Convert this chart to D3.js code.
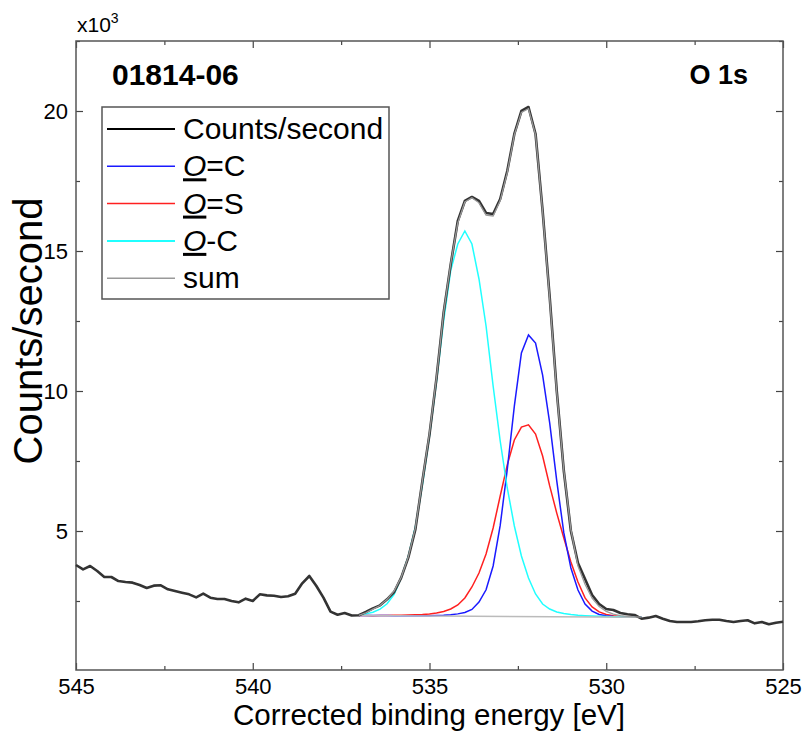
<!DOCTYPE html>
<html>
<head>
<meta charset="utf-8">
<script src="https://cdn.jsdelivr.net/npm/d3@7"></script>
<style>
  body { margin: 0; background: #fff; }
  svg text { font-family: "Liberation Sans", Arial, sans-serif; fill: #000; }
</style>
</head>
<body>
<svg id="chart" width="806" height="732"></svg>
<script>
// binding energy grid: 545 eV down to 525 eV, 0.2 eV steps
const eStart = 545, eStep = -0.2;

// measured counts/second, one per grid point (101 values)
const counts = [
  3786, 3631, 3750, 3571, 3357, 3357, 3214, 3179, 3155, 3071,
  2964, 3048, 3060, 2917, 2857, 2798, 2738, 2631, 2762, 2619,
  2571, 2571, 2500, 2452, 2583, 2500, 2738, 2702, 2690, 2643,
  2667, 2762, 3131, 3393, 3036, 2619, 2120, 2010, 2070, 1980,
  1990, 2107, 2238, 2345, 2560, 2821, 3333, 4048, 5060, 6786,
  8452, 10476, 12798, 14524, 16071, 16786, 16929, 16786, 16357, 16321,
  16857, 17857, 19179, 20000, 20143, 19179, 16430, 13357, 10000, 7143,
  5000, 3857, 3286, 2714, 2393, 2214, 2179, 2071, 2024, 2000,
  1869, 1905, 1964, 1869, 1786, 1750, 1750, 1750, 1774, 1810,
  1833, 1833, 1786, 1750, 1786, 1810, 1702, 1750, 1667, 1726,
  1762
];

// fit region: grid index 40 (537.0 eV) to 80 (529.0 eV)
const fitFrom = 40;

// linear background end points [eV, counts]
const background = [[537.0, 1980], [529.0, 1920]];

const peakOC = [ // O=C, blue
  1980, 1980, 1980, 1980, 1980, 1975, 1975, 1975, 1975, 1975,
  1975, 1980, 1990, 2010, 2040, 2090, 2200, 2460, 2900, 3750,
  5200, 7200, 9460, 11360, 12000, 11710, 10570, 8860, 6790, 4930,
  3680, 2890, 2390, 2140, 2020, 1975, 1950, 1940, 1930, 1925,
  1920
];
const peakOS = [ // O=S, red
  1980, 1978, 1977, 1980, 1985, 1990, 1995, 2000, 2010, 2020,
  2040, 2071, 2125, 2214, 2357, 2607, 3000, 3500, 4180, 5107,
  6250, 7360, 8250, 8710, 8790, 8460, 7680, 6610, 5640, 4750,
  3890, 3180, 2610, 2290, 2110, 2020, 1975, 1950, 1935, 1925,
  1920
];
const peakOCs = [ // O-C, cyan
  1990, 2040, 2100, 2210, 2400, 2740, 3330, 4100, 5150, 6650,
  8400, 10350, 12500, 14300, 15250, 15714, 15250, 14000, 12321, 10179,
  8214, 6536, 5179, 4107, 3321, 2750, 2393, 2214, 2107, 2054,
  2018, 1990, 1975, 1962, 1952, 1945, 1940, 1935, 1930, 1925,
  1920
];
const fitSum = [ // sum envelope, grey
  1985, 2080, 2210, 2340, 2560, 2860, 3350, 4080, 5100, 6800,
  8500, 10500, 12800, 14550, 16000, 16750, 16900, 16720, 16280, 16250,
  16800, 17800, 19150, 19950, 20080, 19150, 16400, 13300, 9950, 7150,
  5050, 3750, 3100, 2600, 2300, 2130, 2030, 1980, 1950, 1935,
  1925
];

const xMajor = [545, 540, 535, 530, 525];
const xMinor = [542.5, 537.5, 532.5, 527.5];
const yMajor = [5000, 10000, 15000, 20000];
const yMinor = [2500, 7500, 12500, 17500, 22500];

const legendItems = [
  { label: "Counts/second", color: "#000", width: 2.2 },
  { label: "O", rest: "=C", color: "#1a1aff", width: 1.5 },
  { label: "O", rest: "=S", color: "#ff2020", width: 1.5 },
  { label: "O", rest: "-C", color: "#20ffff", width: 2 },
  { label: "sum", color: "#999", width: 1.5 }
];

const svg = d3.select("#chart");
const pL = 76, pR = 783, pT = 41, pB = 670;

const x = d3.scaleLinear().domain([545, 525]).range([pL, pR]);
const y = d3.scaleLinear().domain([0, 22500]).range([pB + 1, pT]);

const energy = i => eStart + eStep * i;
const line = d3.line().x(d => x(d[0])).y(d => y(d[1]));

function fitSeries(vals) {
  return vals.map((v, k) => [energy(fitFrom + k), v]);
}

// axes, ticks pointing inward
function addAxis(axis, transform, major, minor, fmt) {
  const g = svg.append("g").attr("transform", transform);
  g.call(axis.tickValues(major).tickSize(-7).tickPadding(8).tickFormat(fmt));
  g.select(".domain").remove();
  g.selectAll("text").style("font-size", "22px").attr("fill", "#000");
  g.selectAll("line").attr("stroke", "#444").attr("stroke-width", 1.2);
  const m = svg.append("g").attr("transform", transform);
  m.call(axis.tickValues(minor).tickSize(-4).tickFormat(""));
  m.select(".domain").remove();
  m.selectAll("line").attr("stroke", "#444").attr("stroke-width", 1.2);
}
addAxis(d3.axisBottom(x), `translate(0,${pB})`, xMajor, xMinor, d3.format("d"));
addAxis(d3.axisTop(x), `translate(0,${pT})`, xMajor, xMinor, "");
addAxis(d3.axisLeft(y), `translate(${pL},0)`, yMajor, yMinor, d => d / 1000);
addAxis(d3.axisRight(y), `translate(${pR},0)`, yMajor, yMinor, "");

svg.append("rect")
  .attr("x", pL).attr("y", pT)
  .attr("width", pR - pL).attr("height", pB - pT)
  .attr("fill", "none").attr("stroke", "#555").attr("stroke-width", 1.5);

// fit components
[[peakOS, "#ff2020"], [peakOC, "#1a1aff"], [peakOCs, "#20ffff"]].forEach(([vals, c]) => {
  svg.append("path").datum(fitSeries(vals))
    .attr("fill", "none").attr("stroke", c).attr("stroke-width", 1.5)
    .attr("d", line);
});

svg.append("path").datum(background)
  .attr("fill", "none").attr("stroke", "#bbb").attr("stroke-width", 1.5)
  .attr("d", line);

svg.append("path").datum(counts.map((v, i) => [energy(i), v]))
  .attr("fill", "none").attr("stroke", "#333").attr("stroke-width", 2.6)
  .attr("stroke-linejoin", "round")
  .attr("d", line);

svg.append("path").datum(fitSeries(fitSum))
  .attr("fill", "none").attr("stroke", "#999").attr("stroke-width", 1.3)
  .attr("d", line);

// texts
const xl = svg.append("text").attr("x", 77).attr("y", 32).style("font-size", "21px");
xl.append("tspan").text("x10");
xl.append("tspan").attr("dy", -9).style("font-size", "14px").text("3");

svg.append("text").attr("x", 112).attr("y", 85)
  .style("font-size", "30px").style("font-weight", "bold").text("01814-06");
svg.append("text").attr("x", 748).attr("y", 84).attr("text-anchor", "end")
  .style("font-size", "27px").style("font-weight", "bold").text("O 1s");

svg.append("text").attr("x", 429).attr("y", 725).attr("text-anchor", "middle")
  .style("font-size", "29.5px").text("Corrected binding energy [eV]");
svg.append("text").attr("transform", "translate(42,331) rotate(-90)")
  .attr("text-anchor", "middle").style("font-size", "40px").text("Counts/second");

// legend
const lg = svg.append("g");
lg.append("rect").attr("x", 102).attr("y", 107).attr("width", 287).attr("height", 192)
  .attr("fill", "#fff").attr("stroke", "#555").attr("stroke-width", 1.5);
legendItems.forEach((d, i) => {
  const cy = 129 + i * 37.3;
  lg.append("line").attr("x1", 107).attr("x2", 175).attr("y1", cy).attr("y2", cy)
    .attr("stroke", d.color).attr("stroke-width", d.width);
  const t = lg.append("text").attr("x", 183).attr("y", cy + 10).style("font-size", "30px");
  if (d.rest) {
    t.append("tspan").style("font-style", "italic").style("text-decoration", "underline").text(d.label);
    t.append("tspan").text(d.rest);
  } else {
    t.text(d.label);
  }
});
</script>
</body>
</html>
